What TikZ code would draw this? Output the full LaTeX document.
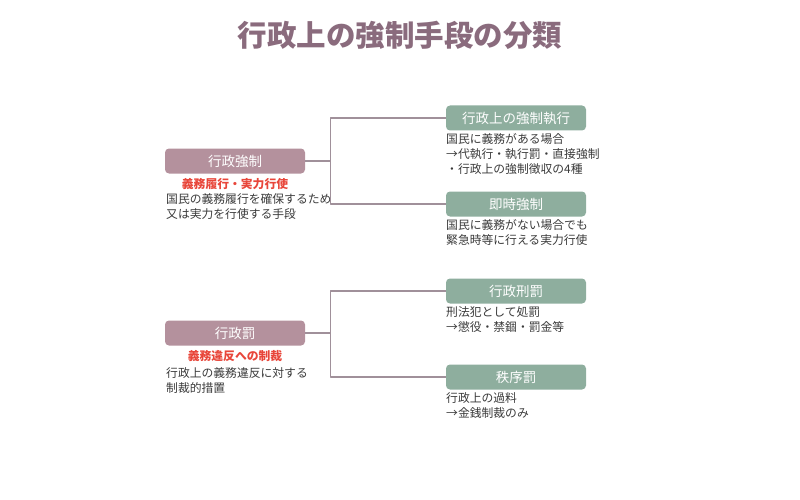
\documentclass[tikz,border=0pt]{standalone}
\usepackage{fontspec}
\setmainfont{Noto Sans CJK JP}
\usepackage{xcolor}
\usetikzlibrary{positioning}
\definecolor{mauve}{HTML}{8A6B7D}
\definecolor{mauvebox}{HTML}{B4919D}
\definecolor{sage}{HTML}{8EAE9E}
\definecolor{alert}{HTML}{E8463A}
\definecolor{wire}{HTML}{A0909A}
\definecolor{ink}{HTML}{3A3A3A}
\tikzset{fig/.style={line join=round,x=1pt,y=-1pt},
 catbox/.style={fill=#1,text=white,rounded corners=4pt,minimum width=140pt,minimum height=25pt,inner sep=0pt,font=\fontsize{13.5}{15}\selectfont},
 note/.style={anchor=north west,align=left,inner sep=0pt,text=ink,font=\fontsize{11.8}{15.3}\selectfont},
 tag/.style={text=alert,inner sep=0pt,font=\fontsize{11.8}{13}\selectfont\bfseries},
 conn/.style={wire,line width=1.3pt}}

\begin{document}
\begin{tikzpicture}[fig]
 \useasboundingbox (0,0) rectangle (800,500);
 \node[text=mauve,font=\fontsize{29.5}{32}\selectfont\bfseries] (title) at (400,35) {行政上の強制手段の分類};
 % left categories
 \node[catbox=mauvebox] (kyosei) at (235,161) {行政強制};
 \node[tag] (kyoseitag) at (235,184) {義務履行・実力行使};
 \node[note] (kyoseinote) at (166,193) {国民の義務履行を確保するため\\又は実力を行使する手段};
 \node[catbox=mauvebox] (batsu) at (235,333) {行政罰};
 \node[tag] (batsutag) at (235,356) {義務違反への制裁};
 \node[note] (batsunote) at (166,367) {行政上の義務違反に対する\\制裁的措置};
 % right categories
 \foreach \n/\y/\lab/\txt in {shikko/118/行政上の強制執行/{国民に義務がある場合\\→代執行・執行罰・直接強制\\・行政上の強制徴収の4種},
   sokuji/204/即時強制/{国民に義務がない場合でも\\緊急時等に行える実力行使},
   keibatsu/291/行政刑罰/{刑法犯として処罰\\→懲役・禁錮・罰金等},
   chitsujo/377/秩序罰/{行政上の過料\\→金銭制裁のみ}}{
  \node[catbox=sage] (\n) at (516,\y) {\lab};
  \node[note] (\n note) at (446,\y+15) {\txt};}
 \draw[conn] (kyosei.east) -- ++(25,0) |- (shikko.west);
 \draw[conn] (kyosei.east) -- ++(25,0) |- (sokuji.west);
 \draw[conn] (batsu.east) -- ++(25,0) |- (keibatsu.west);
 \draw[conn] (batsu.east) -- ++(25,0) |- (chitsujo.west);
\end{tikzpicture}
\end{document}
